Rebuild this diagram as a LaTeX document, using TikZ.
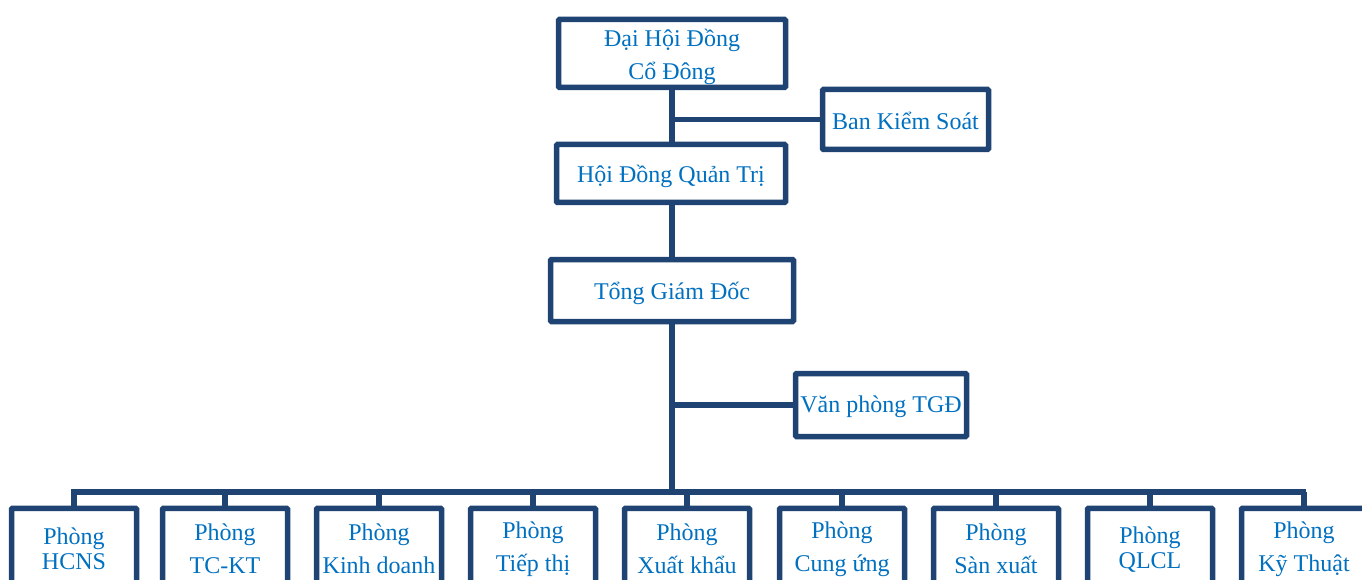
\documentclass[tikz,border=0pt]{standalone}
\usepackage{fontspec}
\setmainfont{Liberation Serif}
\definecolor{navy}{RGB}{31,67,114}
\definecolor{txtblue}{RGB}{0,112,192}
\tikzset{
  orgbox/.style={draw=navy, line width=5.5pt, rounded corners=1pt, fill=white, inner sep=0pt},
  orgtxt/.style={text=txtblue, align=center, inner sep=0pt, font=\fontsize{24}{33}\selectfont},
  dept/.style={orgbox, minimum width=125pt, minimum height=80pt, anchor=north},
  link/.style={draw=navy, line width=5.5pt},
}
\begin{document}
\begin{tikzpicture}[x=1pt,y=-1pt]
\useasboundingbox (0,0) rectangle (1362,580);
\coordinate (bus) at (672,492);
\coordinate (busL) at (74,492);
\coordinate (busR) at (1303,492);
\draw[link] (672,53) -- (bus);
\draw[link, line cap=rect] (busL) -- (busR);
% top nodes
\node[orgbox, minimum width=227pt, minimum height=68pt] (dhdcd) at (672,53.5) {};
\node[orgtxt] (dhdcd-t) at ([yshift=-3pt]dhdcd.center) {Đại Hội Đồng\\Cổ Đông};
\node[orgbox, minimum width=166pt, minimum height=60pt] (bks) at (905.5,119.5) {};
\node[orgtxt] (bks-t) at ([yshift=-1pt]bks.center) {Ban Kiểm Soát};
\node[orgbox, minimum width=229pt, minimum height=58pt] (hdqt) at (671,173.5) {};
\node[orgtxt] (hdqt-t) at ([yshift=-3pt]hdqt.center) {Hội Đồng Quản Trị};
\node[orgbox, minimum width=243pt, minimum height=62pt] (tgd) at (672,290.5) {};
\node[orgtxt] (tgd-t) at ([yshift=-3pt]tgd.center) {Tổng Giám Đốc};
\node[orgbox, minimum width=171pt, minimum height=63pt] (vp) at (881,405) {};
\node[orgtxt] (vp-t) at ([yshift=-2pt]vp.center) {Văn phòng TGĐ};
\draw[link] (bks.west -| 672,0) -- (bks.west);
\draw[link] (vp.west -| 672,0) -- (vp.west);
% departments
\foreach \n/\cx/\t in {
  d1/74/{Phòng\\[-8pt]HCNS},
  d2/225/{Phòng\\TC-KT},
  d3/379/{Phòng\\Kinh doanh},
  d4/533/{Phòng\\Tiếp thị},
  d5/687/{Phòng\\Xuất khẩu},
  d6/842/{Phòng\\Cung ứng},
  d7/996/{Phòng\\Sàn xuất},
  d8/1150/{Phòng\\[-8pt]QLCL},
  d9/1304/{Phòng\\Kỹ Thuật}}{
  \coordinate (s\n) at (\cx,492);
  \node[dept] (\n) at (\cx,505.5) {};
  \node[orgtxt] (\n-t) at ([yshift=-1pt]\n.center) {\t};
  \draw[link] (s\n) -- (\n.north);
}
\end{tikzpicture}
\end{document}
